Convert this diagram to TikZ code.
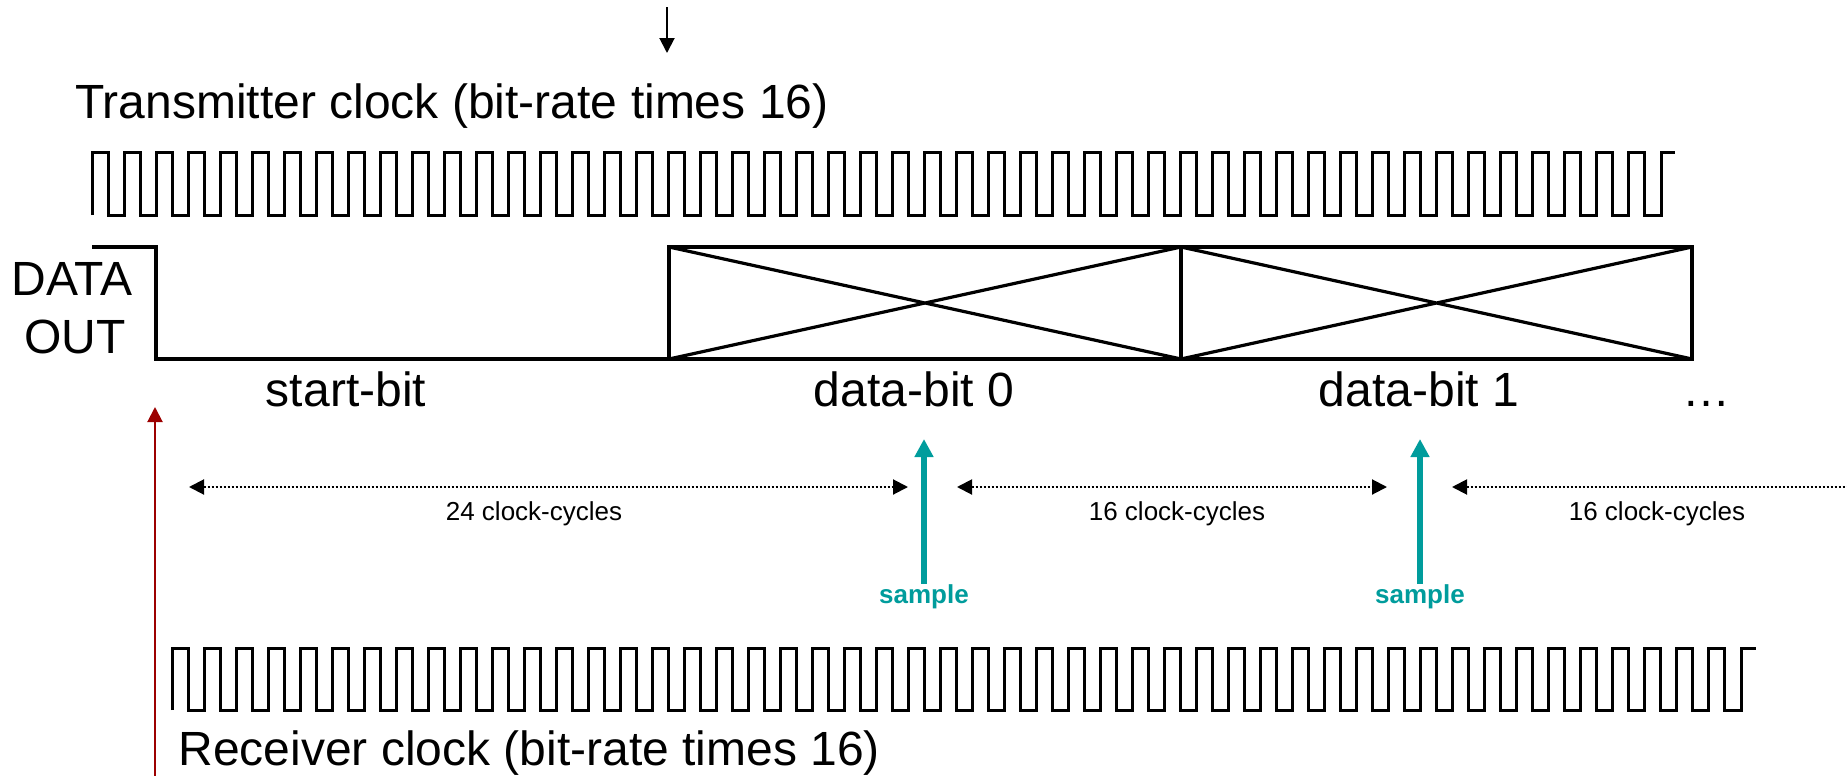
\documentclass[tikz,border=0pt]{standalone}
\usepackage{fontspec}
\setmainfont{Liberation Sans}
\usepackage{xcolor}
\usepackage{tikz}
\usetikzlibrary{arrows.meta, positioning}

\definecolor{sampleteal}{HTML}{009C9C}
\definecolor{rxred}{HTML}{9C0000}

\begin{document}
\begin{tikzpicture}[
    x=0.5pt, y=-0.5pt,
    caption/.style={inner sep=0pt, font=\fontsize{24}{29}\selectfont},
    cyclenote/.style={inner sep=0pt, font=\fontsize{13}{16}\selectfont},
    samplenote/.style={inner sep=0pt, text=sampleteal, font=\fontsize{13}{16}\selectfont\bfseries},
    wave/.style={line width=1.5pt, line join=miter},
    signal/.style={line width=1.6pt},
    pointer/.style={line width=1pt, -{Triangle[length=7.5pt,width=7.5pt]}},
    sampler/.style={line width=3pt, sampleteal, -{Triangle[length=9pt,width=9pt]}},
    span/.style={line width=1pt, dash pattern=on 1pt off 1pt,
        {Triangle[length=7.5pt,width=7.5pt]}-{Triangle[length=7.5pt,width=7.5pt]}},
    spanopen/.style={line width=1pt, dash pattern=on 1pt off 1pt,
        {Triangle[length=7.5pt,width=7.5pt]}-}
]
\useasboundingbox (0,0) rectangle (1847,776);

% Transmitter clock
\coordinate (txin) at (667,7);
\coordinate (txinend) at (667,53);
\draw[pointer] (txin) -- (txinend);
\node[caption, anchor=base west] (txlabel) at (75,118) {Transmitter clock (bit-rate times 16)};
\draw[wave] (92,215) \foreach \k in {1,...,49} {
    -- ++(0,-63) -- ++(16,0) -- ++(0,63) -- ++(16.02,0)
  } -- ++(0,-63) -- ++(14,0);

% Data out: start-bit, then two data bits
\node[caption, anchor=base] (datalbl) at (72,295) {DATA};
\node[caption, anchor=base] (outlbl) at (75,353) {OUT};
\draw[signal] (92,247) -- (156,247) -- (156,359) -- (669,359);
\foreach \a/\b in {669/1181, 1181/1692} {
  \draw[signal] (\a,247) rectangle (\b,359);
  \draw[signal] (\a,247) -- (\b,359) (\a,359) -- (\b,247);
}

\node[caption, anchor=base] (startbit) at (346,406) {start-bit};
\node[caption, anchor=base] (bit0) at (914,406) {data-bit 0};
\node[caption, anchor=base] (bit1) at (1419,406) {data-bit 1};
\node[caption, anchor=base] (more) at (1706,406) {…};

% Receiver start
\coordinate (rxstart) at (155,776);
\coordinate (rxtip) at (155,407);
\draw[pointer, rxred] (rxstart) -- (rxtip);

% Sample points
\node[samplenote, anchor=base] (smp0) at (924,603) {sample};
\node[samplenote, anchor=base] (smp1) at (1420,603) {sample};
\coordinate (smp0tip) at (924,439);
\coordinate (smp1tip) at (1420,439);
\draw[sampler] (smp0.north) -- (smp0tip);
\draw[sampler] (smp1.north) -- (smp1tip);

% Intervals between samples
\coordinate (gap0l) at (189,487);
\coordinate (gap0r) at (908,487);
\coordinate (gap1l) at (957,487);
\coordinate (gap1r) at (1387,487);
\coordinate (gap2l) at (1452,487);
\coordinate (gap2r) at (1847,487);
\draw[span] (gap0l) -- (gap0r);
\draw[span] (gap1l) -- (gap1r);
\draw[spanopen] (gap2l) -- (gap2r);
\node[cyclenote, anchor=base] (cyc24) at (534,520) {24 clock-cycles};
\node[cyclenote, anchor=base] (cyc16a) at (1177,520) {16 clock-cycles};
\node[cyclenote, anchor=base] (cyc16b) at (1657,520) {16 clock-cycles};

% Receiver clock
\draw[wave] (172,710) \foreach \k in {1,...,49} {
    -- ++(0,-62) -- ++(16,0) -- ++(0,62) -- ++(16.02,0)
  } -- ++(0,-62) -- ++(15,0);
\node[caption, anchor=base west] (rxlabel) at (178,765) {Receiver clock (bit-rate times 16)};

\end{tikzpicture}
\end{document}
